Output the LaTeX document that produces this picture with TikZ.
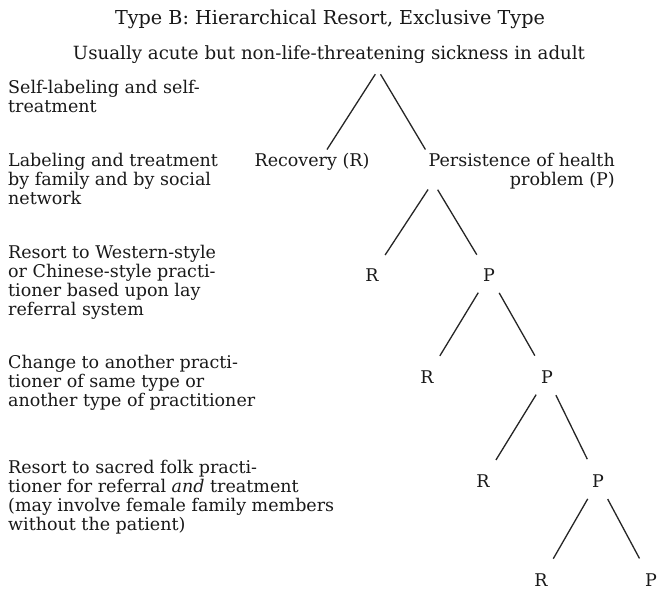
\documentclass[tikz,border=0pt]{standalone}
\usepackage{fontspec}
\setmainfont{DejaVu Serif}
\usetikzlibrary{calc}
\newcommand\labfont{\fontsize{17.5}{19}\selectfont}
\newcommand\subfont{\fontsize{18.2}{20}\selectfont}
\newcommand\ttlfont{\fontsize{19.2}{21}\selectfont}
\begin{document}
\begin{tikzpicture}[x=1pt,y=-1pt,
  txt/.style={anchor=base west, inner sep=0pt, font=\labfont, text=black!90},
  ctr/.style={anchor=base, inner sep=0pt, font=\labfont, text=black!90},
  leaf/.style={inner sep=0pt, font=\labfont, text=black!90},
  trunk/.style={line width=1.3pt, draw=black!85},
  branch/.style={trunk, shorten <=13pt, shorten >=17pt}]
\useasboundingbox (0,0) rectangle (659,595);
\fill[white] (0,0) rectangle (659,595);

% headings
\node[ctr, font=\ttlfont] (title) at (330,24) {Type B: Hierarchical Resort, Exclusive Type};
\node[ctr, font=\subfont] (sub) at (329,59) {Usually acute but non-life-threatening sickness in adult};

% left column
\node[txt] (s1) at (8,93) {\begin{tabular}[t]{@{}l@{}}Self-labeling and self-\\treatment\end{tabular}};
\node[txt] (s2) at (8,166) {\begin{tabular}[t]{@{}l@{}}Labeling and treatment\\by family and by social\\network\end{tabular}};
\node[txt] (s3) at (8,258) {\begin{tabular}[t]{@{}l@{}}Resort to Western-style\\or Chinese-style practi-\\tioner based upon lay\\referral system\end{tabular}};
\node[txt] (s4) at (8,368) {\begin{tabular}[t]{@{}l@{}}Change to another practi-\\tioner of same type or\\another type of practitioner\end{tabular}};
\node[txt] (s5) at (8,473) {\begin{tabular}[t]{@{}l@{}}Resort to sacred folk practi-\\tioner for referral \textit{and} treatment\\(may involve female family members\\without the patient)\end{tabular}};

% tree, first level
\coordinate (top) at (378,70);
\node[ctr] (rec) at (312,166) {Recovery (R)};
\node[txt, anchor=base east] (per) at (615,166) {\begin{tabular}[t]{@{}r@{}}Persistence of health\\problem (P)\end{tabular}};
\coordinate (p1) at (433,182);
\draw[trunk, shorten <=5pt] (top) -- ([xshift=15pt,yshift=3pt]rec.north);
\draw[trunk, shorten <=5pt] (top) -- ([xshift=-3pt,yshift=3pt]per.north west);

% lower levels
\node[leaf] (r2) at (372,275) {R};
\node[leaf] (p2) at (489,275) {P};
\node[leaf] (r3) at (427,377) {R};
\node[leaf] (p3) at (547,377) {P};
\node[leaf] (r4) at (483,481) {R};
\node[leaf] (p4) at (598,481) {P};
\node[leaf] (r5) at (541,580) {R};
\node[leaf] (p5) at (651,580) {P};

\draw[branch, shorten <=9pt, shorten >=16pt] (p1) -- (r2);
\draw[branch, shorten <=9pt, shorten >=16pt] (p1) -- (p2);
\draw[branch] (p2) -- (r3);
\draw[branch] (p2) -- (p3);
\draw[branch] (p3) -- (r4);
\draw[branch] (p3) -- (p4);
\draw[branch] (p4) -- (r5);
\draw[branch] (p4) -- (p5);
\end{tikzpicture}
\end{document}
